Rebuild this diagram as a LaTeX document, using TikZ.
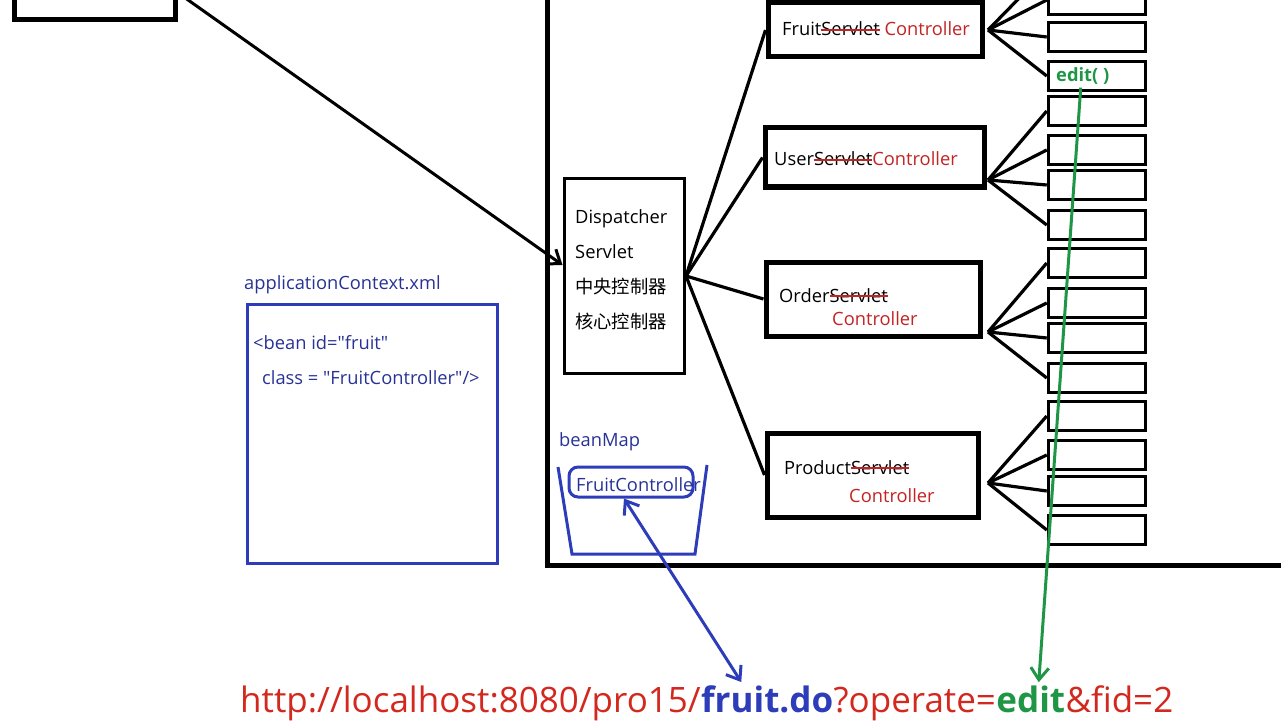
\documentclass[tikz,border=0pt]{standalone}
\usepackage{fontspec}
\setmainfont{Open Sans}
\newfontfamily\cjk{Noto Sans CJK SC}
\usetikzlibrary{arrows.meta}
\definecolor{penblue}{RGB}{45,60,185}
\definecolor{inkblue}{RGB}{40,50,150}
\definecolor{inkred}{RGB}{195,35,35}
\definecolor{urlred}{RGB}{210,40,30}
\definecolor{pengreen}{RGB}{30,150,70}
\newsavebox\strkbox
\def\strk#1{\sbox\strkbox{#1}\rlap{\usebox\strkbox}\textcolor{inkred}{\rule[0.3em]{\wd\strkbox}{0.08em}}}
\def\txt{\fontsize{18.3}{22}\selectfont}
\def\urlfont{\fontsize{35}{40}\selectfont}
\def\q{\textquotedbl}

\begin{document}
\begin{tikzpicture}[x=1pt, y=-1pt,
	ctrlbox/.style={draw, line width=5pt, inner sep=0pt},
	mbox/.style={draw, line width=3.5pt, minimum width=97pt, minimum height=29pt, inner sep=0pt},
	fan/.style={line width=3.2pt},
	lbl/.style={font=\txt, inner sep=0pt, anchor=base west},
	bluepen/.style={draw=penblue, line width=3pt, inner sep=0pt},
	tip/.style={-{Straight Barb[length=12pt, width=18pt]}}]
			%%%%% START %%%%%
			
			\useasboundingbox (0,0) rectangle (1281,722);
			\clip (0,0) rectangle (1281,722);
			
			\node[draw, line width=5pt, minimum width=161pt, minimum height=55pt] (client) at (94.5,-7.5) {};
			\draw[line width=5pt] (547,-10) |- (1290,565);
			
			\node[draw, line width=3pt, minimum width=120pt, minimum height=194pt] (disp) at (624,276) {};
			\node[lbl] (d1) at (575,223) {Dispatcher};
			\node[lbl] (d2) at (575,258) {Servlet};
			\node[lbl, font=\txt\cjk] (d3) at (575,293) {中央控制器};
			\node[lbl, font=\txt\cjk] (d4) at (575,328) {核心控制器};
			
			\node[ctrlbox, minimum width=214pt, minimum height=54pt] (fruit) at (875,30) {};
			\node[ctrlbox, minimum width=219pt, minimum height=59pt] (user) at (874.5,157.5) {};
			\node[ctrlbox, minimum width=214pt, minimum height=74pt] (order) at (873,299) {};
			\node[ctrlbox, minimum width=211pt, minimum height=84pt] (product) at (872.5,475) {};
			
			\node[lbl] (fruitname) at (782,36) {Fruit\strk{Servlet} \textcolor{inkred}{Controller}};
			\node[lbl] (username) at (774,166) {User\strk{Servlet}\textcolor{inkred}{Controller}};
			\node[lbl] (ordername) at (779,302) {Order\strk{Servlet}};
			\node[lbl, text=inkred] (orderctrl) at (832,325) {Controller};
			\node[lbl] (productname) at (784,474) {Product\strk{Servlet}};
			\node[lbl, text=inkred] (productctrl) at (849,502) {Controller};
			
			\coordinate (dfan) at (686,276);
			\foreach \c in {fruit,user,order,product}
				\draw[fan] (dfan) -- (\c.west);
			
			\foreach \y [count=\i] in {0,37,76,111,150,185,225,263,303,338,378,416,455,491,530}
				\node[mbox] (m\i) at (1097,\y) {};
			
			\coordinate (ffan) at (988,30);
			\coordinate (fup) at (1032,-15);
			\coordinate (ufan) at (988,180);
			\coordinate (ofan) at (988,332);
			\coordinate (pfan) at (988,483);
			\draw[fan] (ffan) -- (fup);
			\foreach \i in {1,2,3} \draw[fan] (ffan) -- (m\i.west);
			\foreach \i in {4,...,7} \draw[fan] (ufan) -- (m\i.west);
			\foreach \i in {8,...,11} \draw[fan] (ofan) -- (m\i.west);
			\foreach \i in {12,...,15} \draw[fan] (pfan) -- (m\i.west);
			
			\node[lbl, font=\txt\bfseries, text=pengreen] (edt) at (1056,81.5) {edit( )};
			
			\draw[line width=3pt, tip] (client.east) -- ([yshift=11pt]disp.west);
			
			% applicationContext.xml
			\node[lbl, text=inkblue] (ctxname) at (244,289.5) {applicationContext.xml};
			\node[bluepen, minimum width=250pt, minimum height=259pt] (ctx) at (372,433.5) {};
			\node[lbl, text=inkblue] (bean1) at (253,349.5) {<bean id=\q fruit\q};
			\node[lbl, text=inkblue] (bean2) at (262,384.5) {class = \q FruitController\q/>};
			
			% beanMap
			\node[lbl, text=inkblue] (mapname) at (559,446.5) {beanMap};
			\draw[penblue, line width=3pt] (558,467) -- (572,554) -- (695,554) -- (707,465);
			\node[bluepen, rounded corners=9pt, minimum width=124pt, minimum height=30pt] (fc) at (631,482) {};
			\node[lbl, text=inkblue] (fcname) at (576,491.5) {FruitController};
			
			% url
			\node[lbl, font=\urlfont, text=urlred] (u1) at (240,712) {http://localhost:8080/pro15/};
			\node[lbl, font=\urlfont\bfseries, text=penblue] (u2) at (u1.base east) {fruit.do};
			\node[lbl, font=\urlfont, text=urlred] (u3) at (u2.base east) {?operate=};
			\node[lbl, font=\urlfont\bfseries, text=pengreen] (u4) at (u3.base east) {edit};
			\node[lbl, font=\urlfont, text=urlred] (u5) at (u4.base east) {\&fid=2};
			
			\draw[penblue, line width=3pt, {Straight Barb[length=12pt, width=18pt]}-{Straight Barb[length=12pt, width=18pt]}] ([xshift=-7pt]fc.south) -- ([xshift=-26pt,yshift=3pt]u2.north);
			\draw[pengreen, line width=3pt, tip] ([xshift=-2pt,yshift=-3pt]edt.south) -- ([xshift=8pt,yshift=3pt]u4.north);
			
			%%%%% END %%%%%
\end{tikzpicture}
\end{document}
